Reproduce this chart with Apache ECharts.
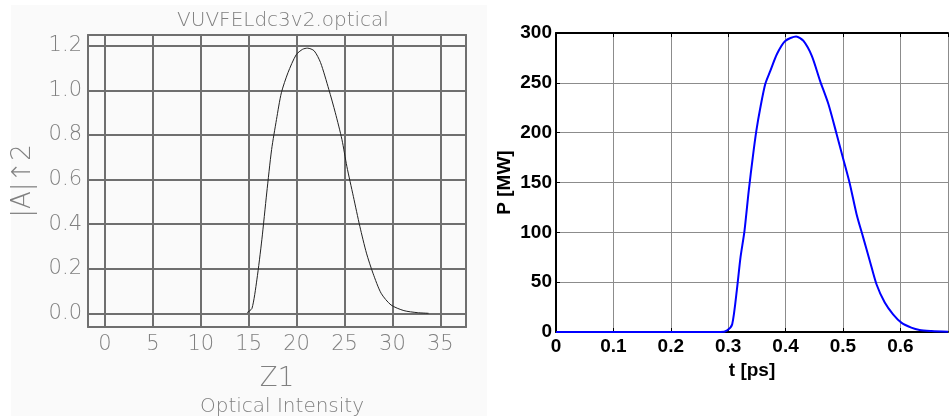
<!DOCTYPE html>
<html>
<head>
<meta charset="utf-8">
<script src="https://cdn.jsdelivr.net/npm/echarts@6/dist/echarts.min.js"></script>
<style>html,body{margin:0;padding:0;background:#fff;}#c{width:949px;height:416px;}</style>
</head>
<body>
<div id="c"></div>
<script>
// Left panel: optical intensity vs z1
const leftZ = [14.83, 15.34, 15.85, 16.37, 16.88, 17.39, 17.9, 18.41, 19.1, 19.95, 20.63, 21.14, 21.83, 22.5, 23.36, 24.04, 24.73, 25.24, 25.92, 26.6, 27.29, 27.97, 28.82, 29.85, 31.2, 32.58, 33.77];
const leftI = [0.003, 0.022, 0.15, 0.33, 0.54, 0.735, 0.87, 0.99, 1.08, 1.16, 1.185, 1.19, 1.178, 1.125, 1.005, 0.90, 0.78, 0.66, 0.525, 0.39, 0.27, 0.18, 0.09, 0.0375, 0.012, 0.003, 0.0];
const leftXTicks = [0, 5, 10, 15, 20, 25, 30, 35];
const leftYTicks = [0.0, 0.2, 0.4, 0.6, 0.8, 1.0, 1.2];

// Right panel: power vs time
const rightT = [0, 0.2867, 0.2983, 0.307, 0.3156, 0.3214, 0.3283, 0.3358, 0.3428, 0.3491, 0.356, 0.3647, 0.3734, 0.385, 0.3994, 0.4185, 0.4312, 0.4457, 0.4601, 0.4746, 0.489, 0.5006, 0.5121, 0.5237, 0.5353, 0.5468, 0.5584, 0.5728, 0.5873, 0.6017, 0.619, 0.6335, 0.6545, 0.683];
const rightP = [0, 0, 1.7, 7.7, 44.5, 74.7, 101, 141.6, 175, 202, 225, 249, 262, 279, 292, 296.6, 292, 277, 252, 228.7, 198.5, 173.4, 148.3, 118.2, 94.7, 71.3, 47.9, 29.5, 17.7, 9.4, 4.35, 2, 1, 0.2];
const rightXTicks = [0, 0.1, 0.2, 0.3, 0.4, 0.5, 0.6];
const rightYTicks = [0, 50, 100, 150, 200, 250, 300];

const leftTitle = 'VUVFELdc3v2.optical';
const leftSub = 'Optical Intensity';
const leftXName = 'Z1';
const leftYName = '|A|↑2';
const rightXName = 't [ps]';
const rightYName = 'P [MW]';

const isTick = (arr, v) => arr.some(t => Math.abs(t - v) < 1e-6);

const grayText = '#808080';
const lightFont = 'DejaVu Sans';
const boldFont = 'Liberation Sans';

const chart = echarts.init(document.getElementById('c'), null, {renderer: 'canvas'});
chart.setOption({
  backgroundColor: '#ffffff',
  animation: false,
  graphic: [{
    type: 'rect', z: -100, silent: true,
    shape: {x: 11, y: 5, width: 476, height: 411},
    style: {fill: '#fafafa'}
  }],
  title: [
    {text: leftTitle, left: 278, top: 6, textAlign: 'center',
     textStyle: {fontFamily: lightFont, fontWeight: 200, fontSize: 20, color: grayText}},
    {text: leftSub, left: 277, top: 392, textAlign: 'center',
     textStyle: {fontFamily: lightFont, fontWeight: 200, fontSize: 20, color: grayText}}
  ],
  grid: [
    {left: 88, top: 35, width: 378, height: 292, show: true, backgroundColor: '#fafafa',
     borderColor: '#777777', borderWidth: 2},
    {left: 556, top: 33, width: 392, height: 299, show: false}
  ],
  xAxis: [
    {type: 'value', gridIndex: 0, min: -1.775, max: 37.68, minInterval: 5, maxInterval: 5,
     name: leftXName, nameLocation: 'middle', nameGap: 39,
     nameTextStyle: {fontFamily: lightFont, fontWeight: 200, fontSize: 26, color: grayText},
     axisLine: {show: false}, axisTick: {show: false},
     splitLine: {show: true, lineStyle: {color: '#6f6f6f', width: 2}},
     axisLabel: {margin: 7, showMinLabel: false, showMaxLabel: false,
       fontFamily: lightFont, fontWeight: 200, fontSize: 21, color: grayText,
       formatter: v => isTick(leftXTicks, v) ? String(Math.round(v)) : ''}},
    {type: 'value', gridIndex: 1, min: 0, max: 0.683, interval: 0.1,
     name: rightXName, nameLocation: 'middle', nameGap: 25,
     nameTextStyle: {fontFamily: boldFont, fontWeight: 'bold', fontSize: 19, color: '#000'},
     axisLine: {show: true, onZero: false, lineStyle: {color: '#000', width: 2}},
     axisTick: {show: true, inside: true, length: 4, lineStyle: {color: '#000', width: 1}},
     splitLine: {show: true, lineStyle: {color: '#8c8c8c', width: 1}},
     axisLabel: {margin: 5, showMaxLabel: false,
       fontFamily: boldFont, fontWeight: 'bold', fontSize: 19, color: '#000',
       formatter: v => isTick(rightXTicks, v) ? (v === 0 ? '0' : v.toFixed(1)) : ''}},
    {type: 'value', gridIndex: 1, position: 'top', min: 0, max: 0.683, interval: 0.1,
     axisLine: {show: true, onZero: false, lineStyle: {color: '#000', width: 2}},
     axisTick: {show: true, inside: true, length: 4, lineStyle: {color: '#000', width: 1}},
     splitLine: {show: false}, axisLabel: {show: false}}
  ],
  yAxis: [
    {type: 'value', gridIndex: 0, min: -0.0615, max: 1.249, minInterval: 0.2, maxInterval: 0.2,
     name: leftYName, nameLocation: 'middle', nameGap: 52, nameRotate: 90,
     nameTextStyle: {fontFamily: lightFont, fontWeight: 200, fontSize: 26, color: grayText},
     axisLine: {show: false}, axisTick: {show: false},
     splitLine: {show: true, lineStyle: {color: '#6f6f6f', width: 2}},
     axisLabel: {margin: 6, showMinLabel: false, showMaxLabel: false,
       fontFamily: lightFont, fontWeight: 200, fontSize: 21, color: grayText,
       formatter: v => isTick(leftYTicks, v) ? v.toFixed(1) : ''}},
    {type: 'value', gridIndex: 1, min: 0, max: 300, interval: 50,
     name: rightYName, nameLocation: 'middle', nameGap: 42, nameRotate: 90,
     nameTextStyle: {fontFamily: boldFont, fontWeight: 'bold', fontSize: 19, color: '#000'},
     axisLine: {show: true, onZero: false, lineStyle: {color: '#000', width: 2}},
     axisTick: {show: true, inside: true, length: 4, lineStyle: {color: '#000', width: 1}},
     splitLine: {show: true, lineStyle: {color: '#8c8c8c', width: 1}},
     axisLabel: {margin: 4,
       fontFamily: boldFont, fontWeight: 'bold', fontSize: 19, color: '#000',
       formatter: v => isTick(rightYTicks, v) ? String(Math.round(v)) : ''}}
  ],
  series: [
    {type: 'line', xAxisIndex: 0, yAxisIndex: 0, showSymbol: false, smooth: 0.25, clip: false,
     lineStyle: {color: '#222', width: 1}, z: 5,
     data: leftZ.map((z, i) => [z, leftI[i]])},
    {type: 'line', xAxisIndex: 1, yAxisIndex: 1, showSymbol: false, smooth: 0.25, clip: false,
     lineStyle: {color: '#0000ff', width: 2}, z: 5,
     data: rightT.map((t, i) => [t, rightP[i]])}
  ]
});
</script>
</body>
</html>
